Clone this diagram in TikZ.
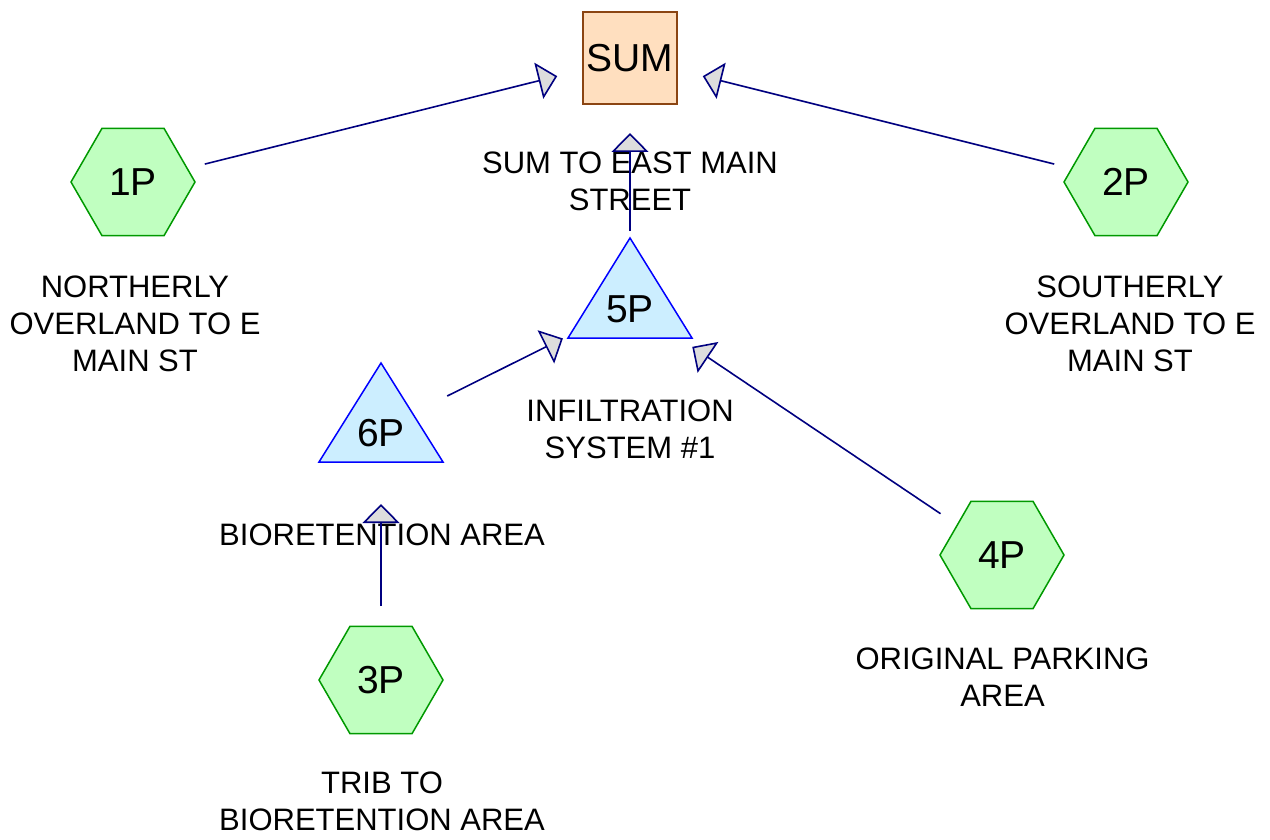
\documentclass[tikz,border=0pt]{standalone}
\usepackage{fontspec}
\setmainfont{Liberation Sans}
\usetikzlibrary{shapes.geometric,arrows.meta}
\definecolor{sumfill}{HTML}{FFDFBF}
\definecolor{sumdraw}{HTML}{8B4513}
\definecolor{hexfill}{HTML}{C0FFC0}
\definecolor{hexdraw}{HTML}{009900}
\definecolor{trifill}{HTML}{CCEEFF}
\definecolor{tridraw}{HTML}{0000FF}
\definecolor{edgecol}{HTML}{000080}
\definecolor{headfill}{HTML}{DDDDDD}
\begin{document}
\begin{tikzpicture}[x=1pt,y=-1pt,
 hexnode/.style={regular polygon, regular polygon sides=6, minimum size=124pt, inner sep=0pt, fill=hexfill, draw=hexdraw, line width=1.5pt, font=\fontsize{39}{45}\selectfont},
 sumnode/.style={rectangle, minimum width=94pt, minimum height=92pt, inner sep=0pt, fill=sumfill, draw=sumdraw, line width=1.5pt, font=\fontsize{39}{45}\selectfont},
 trishape/.style={fill=trifill, draw=tridraw, line width=1.5pt},
 idtext/.style={inner sep=0pt, font=\fontsize{39}{45}\selectfont},
 lbl/.style={inner sep=0pt, align=center, font=\fontsize{31}{37}\selectfont},
 flow/.style={draw=edgecol, line width=1.6pt, -{Triangle[length=19pt,width=37pt,fill=headfill]}, shorten >=75pt, shorten <=74pt}
]
\useasboundingbox[fill=white] (0,0) rectangle (1270,840);

% nodes
\node[sumnode] (sum) at (630,58) {SUM};
\node[hexnode] (p1) at (133,182) {1P};
\node[hexnode] (p2) at (1126,182) {2P};
\node[hexnode] (p3) at (381,680) {3P};
\node[hexnode] (p4) at (1002,555) {4P};
\path[trishape] (568,338) -- (630,238) -- (692,338) -- cycle;
\node[idtext] (p5) at (630,309) {5P};
\path[trishape] (319,462) -- (381,363) -- (443,462) -- cycle;
\node[idtext] (p6) at (381,433) {6P};
\coordinate (c5) at (630,305);
\coordinate (c6) at (381,429);

% labels
\node[lbl] (lsum) at (630,181) {SUM TO EAST MAIN\\STREET};
\node[lbl] (l1) at (135,324) {NORTHERLY\\OVERLAND TO E\\MAIN ST};
\node[lbl] (l2) at (1130,324) {SOUTHERLY\\OVERLAND TO E\\MAIN ST};
\node[lbl] (l5) at (630,429.5) {INFILTRATION\\SYSTEM \#1};
\node[lbl] (l6) at (382,535) {BIORETENTION AREA};
\node[lbl] (l4) at (1002.5,677) {ORIGINAL PARKING\\AREA};
\node[lbl] (l3) at (382,801.5) {TRIB TO\\BIORETENTION AREA};

% connectors
\draw[flow] (p1.center) -- (sum.center);
\draw[flow] (p2.center) -- (sum.center);
\draw[flow] (c5) -- (sum.center);
\draw[flow] (c6) -- (c5);
\draw[flow] (p4.center) -- (c5);
\draw[flow] (p3.center) -- (c6);
\end{tikzpicture}
\end{document}
